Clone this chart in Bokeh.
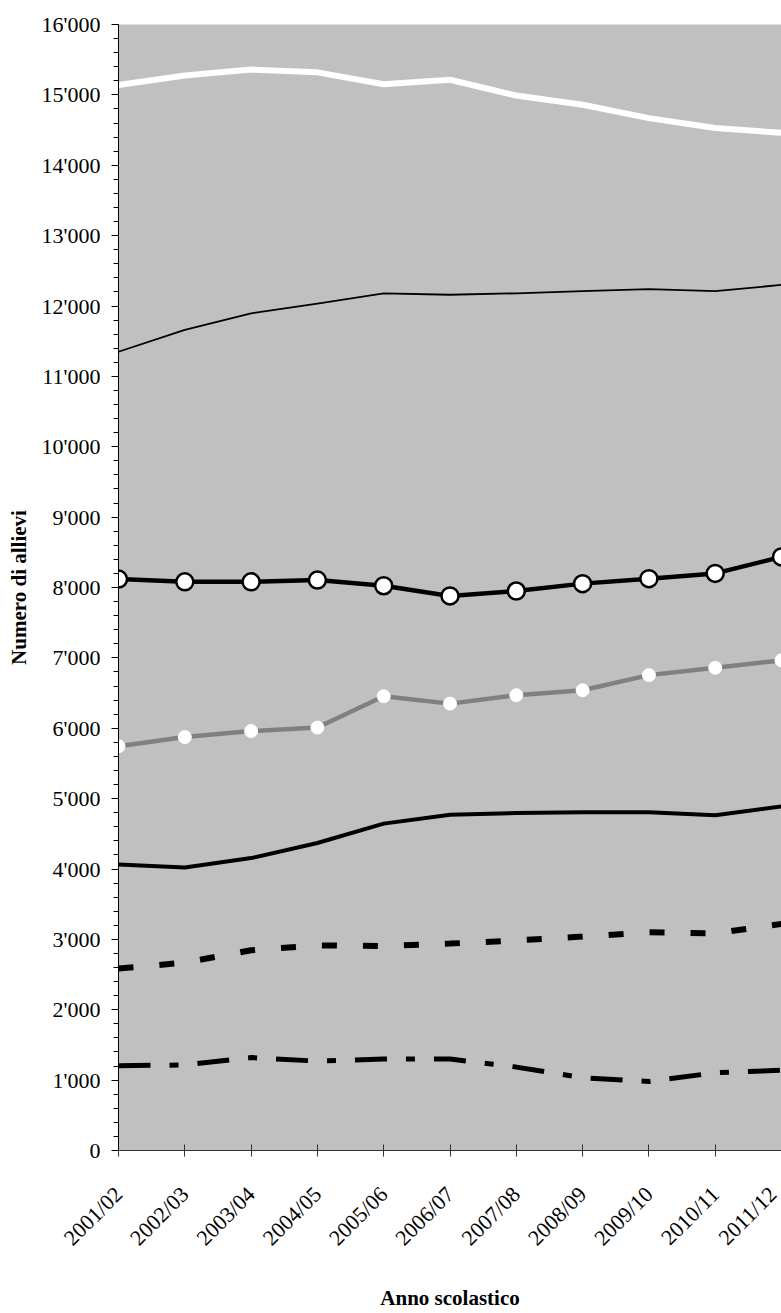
import math
from bokeh.plotting import figure
from bokeh.models import FixedTicker, Range1d
from bokeh.embed import file_html
from bokeh.resources import INLINE

# ---- data ----
anni = ["2001/02", "2002/03", "2003/04", "2004/05", "2005/06", "2006/07",
        "2007/08", "2008/09", "2009/10", "2010/11", "2011/12"]
serie_bianca = [15140, 15275, 15360, 15320, 15150, 15215, 14990, 14860, 14670, 14530, 14460]
serie_sottile = [11350, 11660, 11895, 12035, 12180, 12160, 12180, 12210, 12240, 12210, 12300]
serie_cerchi_neri = [8120, 8080, 8080, 8105, 8025, 7880, 7950, 8055, 8125, 8200, 8435]
serie_cerchi_bianchi = [5745, 5875, 5960, 6010, 6455, 6350, 6470, 6540, 6755, 6860, 6965]
serie_media = [4065, 4020, 4155, 4370, 4645, 4770, 4795, 4805, 4805, 4765, 4890]
serie_tratteggiata = [2585, 2670, 2845, 2915, 2905, 2940, 2985, 3040, 3100, 3085, 3220]
serie_tratto_punto = [1205, 1215, 1320, 1270, 1300, 1300, 1185, 1035, 980, 1105, 1140]
y_ticks = [0, 1000, 2000, 3000, 4000, 5000, 6000, 7000, 8000, 9000, 10000,
           11000, 12000, 13000, 14000, 15000, 16000]
y_tick_labels = ["0", "1'000", "2'000", "3'000", "4'000", "5'000", "6'000", "7'000",
                 "8'000", "9'000", "10'000", "11'000", "12'000", "13'000", "14'000",
                 "15'000", "16'000"]

x = list(range(len(anni)))
FONT = "Liberation Serif"

p = figure(width=781, height=1313, output_backend="svg", toolbar_location=None,
           x_range=Range1d(0, len(anni) - 1), y_range=Range1d(0, 16000),
           min_border_left=118, min_border_right=0, min_border_top=24,
           min_border_bottom=163)
p.background_fill_color = "#C0C0C0"
p.border_fill_color = "white"
p.outline_line_color = None
p.grid.visible = False

# series
p.line(x, serie_bianca, line_color="white", line_width=6, line_join="round")
p.line(x, serie_sottile, line_color="black", line_width=1.8, line_join="round")
p.line(x, serie_media, line_color="black", line_width=4, line_join="round")
p.line(x, serie_tratteggiata, line_color="black", line_width=6, line_dash="15 26")
p.line(x, serie_tratto_punto, line_color="black", line_width=5, line_dash="32 19 9 19")
p.line(x, serie_cerchi_bianchi, line_color="#808080", line_width=4.5, line_join="round")
p.scatter(x, serie_cerchi_bianchi, size=13, fill_color="white", line_color="white",
          line_width=1)
p.line(x, serie_cerchi_neri, line_color="black", line_width=4.5, line_join="round")
p.scatter(x, serie_cerchi_neri, size=17, fill_color="white", line_color="black",
          line_width=2.5)

# y axis
ya = p.yaxis[0]
ya.ticker = FixedTicker(ticks=y_ticks, minor_ticks=list(range(0, 16001, 200)))
ya.major_label_overrides = {t: l for t, l in zip(y_ticks, y_tick_labels)}
ya.major_tick_in = 0
ya.major_tick_out = 7
ya.minor_tick_in = 0
ya.minor_tick_out = 5
ya.axis_line_color = "black"
ya.major_tick_line_color = "black"
ya.minor_tick_line_color = "black"
ya.major_label_text_font = FONT
ya.major_label_text_font_size = "22px"
ya.major_label_text_color = "black"
ya.major_label_standoff = 11
ya.axis_label = "Numero di allievi"
ya.axis_label_text_font = FONT
ya.axis_label_text_font_size = "21px"
ya.axis_label_text_font_style = "bold"
ya.axis_label_text_color = "black"
ya.axis_label_standoff = 8

# x axis
xa = p.xaxis[0]
xa.ticker = FixedTicker(ticks=x)
xa.major_label_overrides = {i: a for i, a in zip(x, anni)}
xa.major_label_orientation = math.pi / 4
xa.major_tick_in = 6
xa.major_tick_out = 6
xa.minor_tick_line_color = None
xa.axis_line_color = "#333333"
xa.major_tick_line_color = "#333333"
xa.major_label_text_font = FONT
xa.major_label_text_font_size = "22px"
xa.major_label_text_color = "black"
xa.major_label_standoff = 34
xa.axis_label = "Anno scolastico"
xa.axis_label_text_font = FONT
xa.axis_label_text_font_size = "21px"
xa.axis_label_text_font_style = "bold"
xa.axis_label_text_color = "black"
xa.axis_label_standoff = 24

open("out.html", "w").write(file_html(p, INLINE))
